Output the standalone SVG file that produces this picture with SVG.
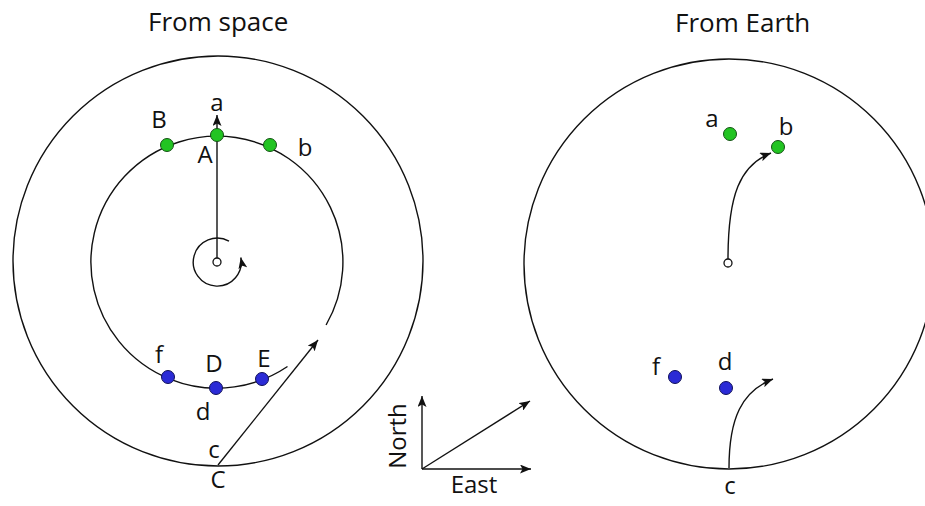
<svg xmlns="http://www.w3.org/2000/svg" width="925" height="506" viewBox="0 0 925 506">
<style>
.ln{fill:none;stroke:#111;stroke-width:1.4}
.t{font-family:"Open Sans","Liberation Sans",sans-serif;font-size:24px;fill:#111}
.h{font-size:26px}
.tc{text-anchor:middle}
.g{fill:#22c422;stroke:#145214;stroke-width:1}
.b{fill:#2b2bd6;stroke:#10105a;stroke-width:1}
.o{fill:#fff;stroke:#111;stroke-width:1.3}
</style>
<defs>
<marker id="ah" markerUnits="userSpaceOnUse" markerWidth="12" markerHeight="9" refX="11" refY="4.5" orient="auto">
<path d="M0,0 L11,4.5 L0,9 L2.5,4.5 Z" fill="#111"/>
</marker>
</defs>
<rect width="925" height="506" fill="#fff"/>
<text class="t h" x="148" y="31">From space</text>
<text class="t h" x="675" y="32">From Earth</text>
<g id="connectors">
<circle class="ln" cx="218" cy="261" r="205"/>
<path class="ln" d="M287.5,366.5 A126,126 0 1 1 326.1,325"/>
<line class="ln" x1="217" y1="258" x2="217" y2="115" marker-end="url(#ah)"/>
<path class="ln" d="M229,241.2 A24,24 0 1 0 240.8,257.5" marker-end="url(#ah)"/>
<line class="ln" x1="218" y1="465" x2="318" y2="340" marker-end="url(#ah)"/>
<line class="ln" x1="422" y1="469" x2="422" y2="396" marker-end="url(#ah)"/>
<line class="ln" x1="422" y1="469" x2="531" y2="469" marker-end="url(#ah)"/>
<line class="ln" x1="422" y1="469" x2="530" y2="401" marker-end="url(#ah)"/>
<circle class="ln" cx="729" cy="264" r="205"/>
<path class="ln" d="M728,259 C728,195 740,165 771,153" marker-end="url(#ah)"/>
<path class="ln" d="M729,468 C729,418 742,391 773,379" marker-end="url(#ah)"/>
</g>
<g id="center-left"><circle class="o" cx="217" cy="262" r="4"/></g>
<g id="node-B"><circle class="g" cx="167" cy="145" r="6.5"/><text class="t tc" x="159" y="128">B</text></g>
<g id="node-A"><circle class="g" cx="217" cy="135" r="6.5"/><text class="t tc" x="217" y="111">a</text><text class="t tc" x="205" y="163">A</text></g>
<g id="node-b-left"><circle class="g" cx="270" cy="145" r="6.5"/><text class="t tc" x="305" y="156">b</text></g>
<g id="node-f-left"><circle class="b" cx="168" cy="377" r="6.5"/><text class="t tc" x="159" y="363">f</text></g>
<g id="node-D"><circle class="b" cx="216" cy="388" r="6.5"/><text class="t tc" x="214" y="372">D</text><text class="t tc" x="203" y="420">d</text></g>
<g id="node-E"><circle class="b" cx="262" cy="379" r="6.5"/><text class="t tc" x="264" y="367">E</text></g>
<g id="node-C"><text class="t tc" x="214" y="458">c</text><text class="t tc" x="218" y="488">C</text></g>
<g id="compass">
<text class="t tc" transform="translate(406,436) rotate(-90)">North</text>
<text class="t tc" x="474" y="493">East</text>
</g>
<g id="center-right"><circle class="o" cx="728" cy="263" r="4"/></g>
<g id="node-a-right"><circle class="g" cx="730" cy="134" r="6.5"/><text class="t tc" x="712" y="127">a</text></g>
<g id="node-b-right"><circle class="g" cx="778" cy="147" r="6.5"/><text class="t tc" x="786" y="135">b</text></g>
<g id="node-f-right"><circle class="b" cx="675" cy="377" r="6.5"/><text class="t tc" x="656" y="375">f</text></g>
<g id="node-d-right"><circle class="b" cx="726" cy="388" r="6.5"/><text class="t tc" x="725" y="370">d</text></g>
<g id="node-c-right"><text class="t tc" x="730" y="494">c</text></g>
</svg>
